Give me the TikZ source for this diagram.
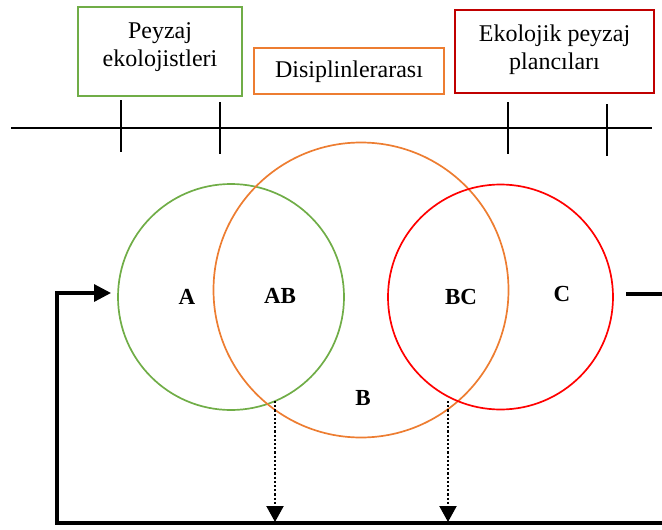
\documentclass[tikz,border=0pt]{standalone}
\usepackage{fontspec}
\setmainfont{Liberation Serif}
\usetikzlibrary{arrows.meta,shapes.geometric}
\definecolor{cgreen}{RGB}{112,173,71}
\definecolor{corange}{RGB}{237,125,49}
\definecolor{cred}{RGB}{255,0,0}
\definecolor{cboxred}{RGB}{192,0,0}
\begin{document}
\begin{tikzpicture}[x=1pt,y=-1pt,
  boxstyle/.style={draw,line width=2pt,inner sep=0pt},
  boxtext/.style={align=center,inner sep=0pt,font=\fontsize{24}{28}\selectfont},
  ring/.style={circle,line width=1.7pt,inner sep=0pt},
  lbl/.style={font=\fontsize{23}{26}\selectfont\bfseries,inner sep=0pt},
  axisline/.style={line width=1.8pt},
  thick arrow/.style={line width=3.2pt},
  dotarrow/.style={line width=2.2pt,dash pattern=on 2.2pt off 2pt,-{Triangle[length=16pt,width=17pt]}}
]
\useasboundingbox (0,0) rectangle (662,530);
% top boxes
\node[boxstyle,draw=cgreen,minimum width=164pt,minimum height=89pt] (gbox) at (160,51.5) {};
\node[boxtext] (gtext) at (160,47) {Peyzaj\\ekolojistleri};
\node[boxstyle,draw=corange,minimum width=190pt,minimum height=46pt] (obox) at (349,71) {};
\node[boxtext] (otext) at (349,72) {Disiplinlerarası};
\node[boxstyle,draw=cboxred,minimum width=199pt,minimum height=83pt] (rbox) at (554.5,51.5) {};
\node[boxtext] (rtext) at (554.5,50) {Ekolojik peyzaj\\plancıları};
% axis
\coordinate (axl) at (11,128);
\coordinate (axr) at (652,128);
\draw[axisline] (axl) -- (axr);
\coordinate (t1a) at (121,100); \coordinate (t1b) at (121,152);
\coordinate (t2a) at (220,102); \coordinate (t2b) at (220,154);
\coordinate (t3a) at (508,102); \coordinate (t3b) at (508,154);
\coordinate (t4a) at (607,104); \coordinate (t4b) at (607,156);
\draw[axisline] (t1a) -- (t1b);
\draw[axisline] (t2a) -- (t2b);
\draw[axisline] (t3a) -- (t3b);
\draw[axisline] (t4a) -- (t4b);
% circles
\node[ring,draw=cgreen,minimum size=226pt] (cA) at (231,297) {};
\node[ring,draw=corange,minimum size=295pt] (cB) at (361,290) {};
\node[ring,draw=cred,minimum size=225pt] (cC) at (500.5,297) {};
% labels
\node[lbl] (lA) at (187,297) {A};
\node[lbl] (lAB) at (280,296) {AB};
\node[lbl] (lBC) at (461,297) {BC};
\node[lbl] (lC) at (562,294) {C};
\node[lbl] (lB) at (363,398) {B};
% feedback loop
\coordinate (bR) at (662,523);
\coordinate (bL) at (57,523);
\coordinate (aTop) at (57,293);
\coordinate (aTip) at (111,293);
\draw[thick arrow,-{Triangle[length=17pt,width=17pt]}] (bR) -- (bL) -- (aTop) -- (aTip);
\coordinate (sL) at (626,294);
\coordinate (sR) at (662,294);
\draw[thick arrow] (sL) -- (sR);
% dotted arrows
\coordinate (d1a) at (275,401);
\coordinate (d1b) at (275,522);
\coordinate (d2a) at (448,401);
\coordinate (d2b) at (448,522);
\draw[dotarrow] (d1a) -- (d1b);
\draw[dotarrow] (d2a) -- (d2b);
\end{tikzpicture}
\end{document}
